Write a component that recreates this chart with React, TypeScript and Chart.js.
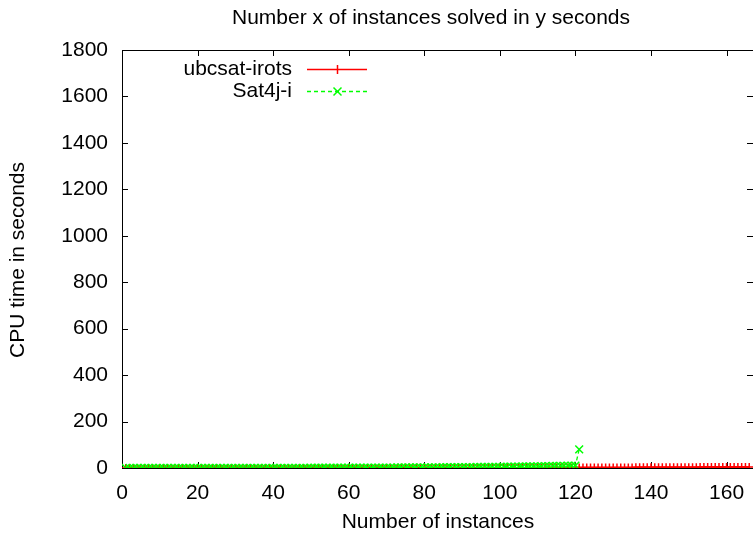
import React, { useEffect, useRef } from "react";
import { Chart, registerables } from "chart.js";

Chart.register(...registerables);

const chartTitle = "Number x of instances solved in y seconds";
const xAxisTitle = "Number of instances";
const yAxisTitle = "CPU time in seconds";
const seriesNames = ["ubcsat-irots", "Sat4j-i"];
const seriesColors = ["#ff0000", "#00ff00"];

const xTickValues = [0, 20, 40, 60, 80, 100, 120, 140, 160];
const yTickValues = [0, 200, 400, 600, 800, 1000, 1200, 1400, 1600, 1800];

// ubcsat-irots: CPU time (s) of the n-th solved instance, n = 1..166
const ubcsatTimes = [
  0.01, 0.01, 0.01, 0.02, 0.02, 0.02, 0.02, 0.03, 0.03, 0.03,
  0.04, 0.04, 0.04, 0.05, 0.05, 0.05, 0.06, 0.06, 0.07, 0.07,
  0.07, 0.08, 0.08, 0.09, 0.09, 0.10, 0.10, 0.11, 0.11, 0.12,
  0.12, 0.13, 0.13, 0.14, 0.15, 0.15, 0.16, 0.17, 0.17, 0.18,
  0.19, 0.20, 0.20, 0.21, 0.22, 0.23, 0.24, 0.25, 0.26, 0.27,
  0.28, 0.29, 0.30, 0.31, 0.32, 0.33, 0.34, 0.36, 0.37, 0.38,
  0.39, 0.41, 0.42, 0.43, 0.45, 0.46, 0.48, 0.49, 0.51, 0.52,
  0.54, 0.56, 0.57, 0.59, 0.61, 0.63, 0.65, 0.67, 0.69, 0.71,
  0.73, 0.75, 0.77, 0.79, 0.82, 0.84, 0.86, 0.89, 0.91, 0.94,
  0.96, 0.99, 1.02, 1.04, 1.07, 1.10, 1.13, 1.16, 1.19, 1.22,
  1.25, 1.28, 1.31, 1.35, 1.38, 1.41, 1.45, 1.48, 1.52, 1.56,
  1.59, 1.63, 1.67, 1.71, 1.75, 1.79, 1.83, 1.87, 1.91, 1.96,
  2.00, 2.04, 2.09, 2.13, 2.18, 2.22, 2.27, 2.32, 2.37, 2.42,
  2.47, 2.52, 2.57, 2.62, 2.68, 2.73, 2.79, 2.84, 2.90, 2.96,
  3.02, 3.08, 3.14, 3.20, 3.26, 3.32, 3.39, 3.45, 3.52, 3.58,
  3.65, 3.72, 3.79, 3.86, 3.93, 4.00, 4.08, 4.15, 4.23, 4.31,
  4.39, 4.47, 4.55, 4.63, 4.72, 4.80,
];

// Sat4j-i: CPU time (s) of the n-th solved instance, n = 1..121
const sat4jTimes = [
  0.10, 0.11, 0.12, 0.13, 0.14, 0.15, 0.16, 0.17, 0.18, 0.19,
  0.20, 0.21, 0.22, 0.23, 0.24, 0.25, 0.26, 0.27, 0.28, 0.29,
  0.30, 0.31, 0.33, 0.34, 0.35, 0.37, 0.38, 0.40, 0.41, 0.43,
  0.44, 0.46, 0.48, 0.50, 0.52, 0.54, 0.56, 0.58, 0.60, 0.62,
  0.64, 0.67, 0.69, 0.72, 0.74, 0.77, 0.80, 0.83, 0.86, 0.89,
  0.92, 0.95, 0.99, 1.02, 1.06, 1.10, 1.14, 1.18, 1.22, 1.26,
  1.31, 1.35, 1.40, 1.45, 1.50, 1.56, 1.61, 1.67, 1.73, 1.79,
  1.86, 1.92, 1.99, 2.06, 2.14, 2.21, 2.29, 2.37, 2.46, 2.55,
  2.64, 2.73, 2.83, 2.93, 3.04, 3.15, 3.26, 3.38, 3.50, 3.62,
  3.75, 3.89, 4.03, 4.17, 4.32, 4.48, 4.64, 4.80, 4.98, 5.16,
  5.34, 5.53, 5.73, 5.94, 6.15, 6.37, 6.60, 6.84, 7.08, 7.34,
  7.60, 7.87, 8.16, 8.45, 8.75, 9.07, 9.39, 9.73, 10.1, 10.4,
  80.0,
];

const FONT_FAMILY = "'Liberation Sans', Arial, Helvetica, sans-serif";
const FONT_SIZE = 21;

const CANVAS_W = 760;
const CANVAS_H = 533;

const gnuplotDecor = {
  id: "gnuplotDecor",
  beforeDatasetsDraw(chart: any) {
    const { ctx, chartArea } = chart;
    const { left, right, top, bottom } = chartArea;
    const xs = chart.scales.x;
    const ys = chart.scales.y;
    ctx.save();
    ctx.strokeStyle = "#000000";
    ctx.lineWidth = 1;
    ctx.beginPath();
    ctx.rect(Math.round(left) + 0.5, Math.round(top) + 0.5, Math.round(right - left), Math.round(bottom - top));
    ctx.stroke();
    const tl = 6;
    ctx.beginPath();
    xTickValues.forEach((v) => {
      const px = Math.round(xs.getPixelForValue(v)) + 0.5;
      ctx.moveTo(px, bottom);
      ctx.lineTo(px, bottom - tl);
      ctx.moveTo(px, top);
      ctx.lineTo(px, top + tl);
    });
    yTickValues.forEach((v) => {
      const py = Math.round(ys.getPixelForValue(v)) + 0.5;
      ctx.moveTo(left, py);
      ctx.lineTo(left + tl, py);
      ctx.moveTo(right, py);
      ctx.lineTo(right - tl, py);
    });
    ctx.stroke();
    ctx.restore();
  },
  afterDraw(chart: any) {
    const { ctx } = chart;
    ctx.save();
    ctx.fillStyle = "#000000";
    ctx.font = `${FONT_SIZE}px ${FONT_FAMILY}`;
    ctx.textAlign = "center";
    ctx.textBaseline = "middle";
    ctx.fillText(chartTitle, 431, 18);
    ctx.fillText(xAxisTitle, 438, 522);
    ctx.save();
    ctx.translate(18, 260);
    ctx.rotate(-Math.PI / 2);
    ctx.fillText(yAxisTitle, 0, 0);
    ctx.restore();

    // legend
    const rows = [69, 91];
    seriesNames.forEach((name, i) => {
      const y = rows[i];
      ctx.fillStyle = "#000000";
      ctx.textAlign = "right";
      ctx.textBaseline = "middle";
      ctx.fillText(name, 292, y);
      ctx.strokeStyle = seriesColors[i];
      ctx.lineWidth = 1.6;
      ctx.setLineDash(i === 1 ? [4, 3] : []);
      ctx.beginPath();
      ctx.moveTo(307, y + 0.5);
      ctx.lineTo(367, y + 0.5);
      ctx.stroke();
      ctx.setLineDash([]);
      ctx.lineWidth = 1.5;
      ctx.beginPath();
      if (i === 0) {
        ctx.moveTo(337.5, y - 4);
        ctx.lineTo(337.5, y + 5);
      } else {
        ctx.moveTo(333.5, y - 3.5);
        ctx.lineTo(341.5, y + 4.5);
        ctx.moveTo(341.5, y - 3.5);
        ctx.lineTo(333.5, y + 4.5);
      }
      ctx.stroke();
    });
    ctx.restore();
  },
};

export default function App() {
  const canvasRef = useRef<HTMLCanvasElement | null>(null);

  useEffect(() => {
    const canvas = canvasRef.current;
    if (!canvas) return;
    const chart = new Chart(canvas, {
      type: "line",
      data: {
        datasets: [
          {
            label: seriesNames[1],
            data: sat4jTimes.map((v, i) => ({ x: i + 1, y: v })),
            borderColor: seriesColors[1],
            backgroundColor: seriesColors[1],
            borderWidth: 1.3,
            borderDash: [4, 3],
            pointStyle: "crossRot",
            pointRadius: 5.5,
            pointBorderWidth: 1.5,
            pointBorderColor: seriesColors[1],
            fill: false,
            tension: 0,
            order: 1,
          },
          {
            label: seriesNames[0],
            data: ubcsatTimes.map((v, i) => ({ x: i + 1, y: v })),
            borderColor: seriesColors[0],
            backgroundColor: seriesColors[0],
            borderWidth: 1.5,
            pointStyle: "cross",
            pointRadius: 4,
            pointBorderWidth: 1.5,
            pointBorderColor: seriesColors[0],
            fill: false,
            tension: 0,
            order: 2,
          },
        ],
      },
      options: {
        animation: false,
        responsive: false,
        maintainAspectRatio: false,
        devicePixelRatio: 1,
        layout: { padding: { top: 50, right: 4, left: 0, bottom: 0 } },
        plugins: {
          legend: { display: false },
          title: { display: false },
          tooltip: { enabled: false },
        },
        scales: {
          x: {
            type: "linear",
            min: 0,
            max: 167,
            grid: { display: false, drawTicks: false },
            border: { display: false },
            afterFit: (s: any) => {
              s.height = 65;
            },
            afterBuildTicks: (s: any) => {
              s.ticks = xTickValues.map((v) => ({ value: v }));
            },
            ticks: {
              padding: 13,
              color: "#000000",
              font: { family: FONT_FAMILY, size: FONT_SIZE },
              maxRotation: 0,
              autoSkip: false,
              callback: (v: any) => String(v),
            },
          },
          y: {
            type: "linear",
            min: 0,
            max: 1800,
            grid: { display: false, drawTicks: false },
            border: { display: false },
            afterFit: (s: any) => {
              s.width = 122;
            },
            afterBuildTicks: (s: any) => {
              s.ticks = yTickValues.map((v) => ({ value: v }));
            },
            ticks: {
              padding: 14,
              color: "#000000",
              font: { family: FONT_FAMILY, size: FONT_SIZE },
              autoSkip: false,
              callback: (v: any) => String(v),
            },
          },
        },
      },
      plugins: [gnuplotDecor],
    });
    return () => chart.destroy();
  }, []);

  return (
    <div
      style={{
        position: "fixed",
        left: 0,
        top: 0,
        width: 753,
        height: 533,
        overflow: "hidden",
        background: "#ffffff",
      }}
    >
      <canvas
        ref={canvasRef}
        width={CANVAS_W}
        height={CANVAS_H}
        style={{ display: "block", width: CANVAS_W, height: CANVAS_H }}
      />
    </div>
  );
}
